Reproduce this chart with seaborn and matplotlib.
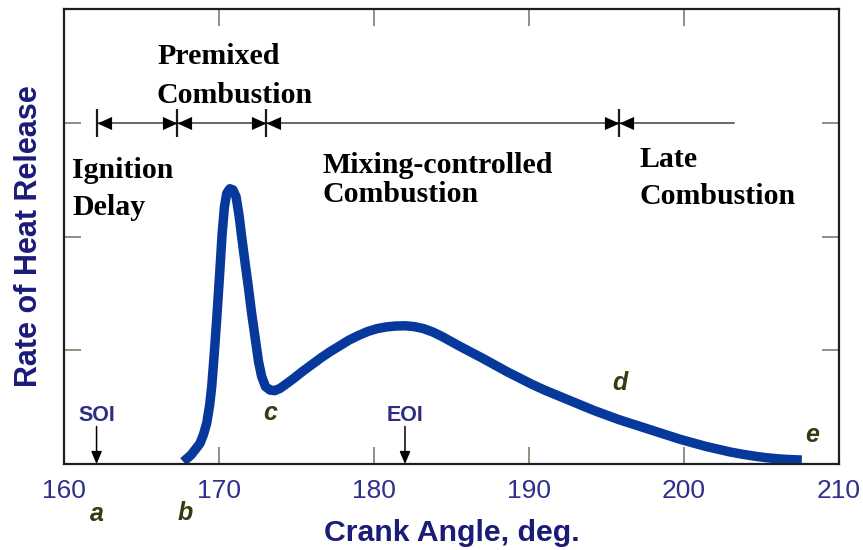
import numpy as np
import pandas as pd
import matplotlib
matplotlib.use("Agg")
import matplotlib.pyplot as plt
import seaborn as sns

# Heat-release-rate curve of a diesel combustion event
crank_angle = [167.7, 168.2, 168.77, 169.0, 169.21, 169.4, 169.53, 169.7, 169.85, 170.06,
               170.2, 170.35, 170.5, 170.7, 170.9, 171.1, 171.3, 171.46, 171.7, 171.89,
               172.1, 172.32, 172.55, 172.75, 173.0, 173.29, 173.6, 173.94, 174.3, 174.8,
               175.4, 176.0, 176.6, 177.2, 177.8, 178.4, 179.0, 179.6, 180.2, 180.8,
               181.4, 182.0, 182.6, 183.2, 183.8, 184.4, 185.0, 185.6, 186.3, 187.0,
               187.8, 188.6, 189.4, 190.2, 191.0, 191.8, 192.6, 193.4, 194.2, 195.0,
               195.8, 196.6, 197.4, 198.2, 199.0, 199.8, 200.6, 201.4, 202.2, 203.0,
               203.8, 204.6, 205.4, 206.2, 207.0, 207.6]
heat_release = [0.02, 0.08, 0.18, 0.26, 0.36, 0.52, 0.68, 0.98, 1.27, 1.71,
                2.02, 2.26, 2.38, 2.42, 2.41, 2.35, 2.18, 2.00, 1.75, 1.56,
                1.33, 1.12, 0.90, 0.77, 0.68, 0.65, 0.645, 0.665, 0.70, 0.75,
                0.815, 0.875, 0.935, 0.99, 1.04, 1.09, 1.13, 1.165, 1.19, 1.205,
                1.213, 1.215, 1.208, 1.19, 1.16, 1.12, 1.075, 1.03, 0.98, 0.93,
                0.87, 0.81, 0.755, 0.70, 0.65, 0.605, 0.56, 0.515, 0.47, 0.43,
                0.39, 0.355, 0.32, 0.285, 0.25, 0.215, 0.185, 0.155, 0.13, 0.105,
                0.085, 0.068, 0.054, 0.044, 0.038, 0.035]

x_ticks = [160, 170, 180, 190, 200, 210]
y_ticks = [1, 2, 3]

# Phase boundaries on the timeline bar
phase_bounds = [162.1, 167.3, 173.0, 195.8]
timeline_end = 203.2
timeline_level = 3.0

# Injection events
injection_labels = ["SOI", "EOI"]
injection_angles = [162.1, 182.0]

# Phase names: (lines, left x, baselines)
phase_names = [
    (["Premixed", "Combustion"], 166.0, [3.516, 3.174]),
    (["Ignition", "Delay"], 160.52, [2.514, 2.189]),
    (["Mixing-controlled", "Combustion"], 176.65, [2.56, 2.303]),
    (["Late", "Combustion"], 197.16, [2.611, 2.286]),
]

# Lettered points on the curve
point_letters = ["a", "b", "c", "d", "e"]
point_x = [162.1, 167.8, 173.29, 195.87, 208.3]
point_y = [-0.44, -0.43, 0.45, 0.71, 0.255]

sns.set_style("white")
plt.rcParams["font.family"] = ["Liberation Sans", "DejaVu Sans"]

fig = plt.figure(figsize=(8.63, 5.5), dpi=100)
ax = fig.add_axes([64 / 863, 86 / 550, 775 / 863, 455 / 550])

df = pd.DataFrame({"angle": crank_angle, "rate": heat_release})
sns.lineplot(data=df, x="angle", y="rate", ax=ax, color="#06399b", lw=6.8,
             sort=False, estimator=None)
for ln in ax.get_lines():
    ln.set_solid_capstyle("butt")
    ln.set_solid_joinstyle("round")

ax.set_xlim(160, 210)
ax.set_ylim(0, 4)
ax.set_xticks(x_ticks)
ax.set_xticklabels([str(t) for t in x_ticks])
ax.set_yticks(y_ticks)
ax.set_yticklabels([])

for sp in ax.spines.values():
    sp.set_visible(True)
    sp.set_color("#1e1e1e")
    sp.set_linewidth(1.6)

ax.tick_params(axis="both", direction="in", length=12, width=1.4, color="#8e9080",
               top=True, right=True, bottom=True, left=True)
ax.tick_params(axis="x", labelsize=19, labelcolor="#2f2f8a", pad=11)

label_color = "#1b1b78"
ax.set_xlabel("Crank Angle, deg.", fontsize=21.8, fontweight="bold", color=label_color,
              labelpad=11)
ax.set_ylabel("Rate of Heat Release", fontsize=22, fontweight="bold", color=label_color,
              labelpad=11)

# Timeline with phase boundaries
ax.plot([phase_bounds[0], timeline_end], [timeline_level] * 2, color="#5a5a5a", lw=1.3,
        zorder=3)
ax.vlines(phase_bounds, timeline_level - 0.125, timeline_level + 0.125, color="#1a1a1a",
          lw=1.6, zorder=4)
head_right = [(0, 0), (-1, 0.45), (-1, -0.45), (0, 0)]
head_left = [(0, 0), (1, 0.45), (1, -0.45), (0, 0)]
ax.plot(phase_bounds, [timeline_level] * len(phase_bounds), ls="none",
        marker=head_left, ms=21, color="black", mew=0, zorder=5)
ax.plot(phase_bounds[1:], [timeline_level] * (len(phase_bounds) - 1), ls="none",
        marker=head_right, ms=21, color="black", mew=0, zorder=5)

serif = ["Liberation Serif", "DejaVu Serif"]
for lines, x0, bases in phase_names:
    for txt, yb in zip(lines, bases):
        ax.text(x0, yb, txt, family=serif, fontsize=21.5, fontweight="bold",
                color="black", ha="left", va="baseline")

# Injection markers
for lab, xa in zip(injection_labels, injection_angles):
    ax.text(xa, 0.43, lab, fontsize=15.5, fontweight="bold", color="#2d2d86",
            ha="center", va="center")
    ax.annotate("", xy=(xa, 0.0), xytext=(xa, 0.33),
                arrowprops=dict(arrowstyle="-|>,head_length=0.75,head_width=0.32",
                                color="black", lw=1.1, shrinkA=0, shrinkB=0),
                annotation_clip=False)

for lt, xp, yp in zip(point_letters, point_x, point_y):
    ax.text(xp, yp, lt, fontsize=18, fontweight="bold", style="italic",
            color="#3a3910", ha="center", va="center", clip_on=False)

fig.savefig("out.png", dpi=100)
